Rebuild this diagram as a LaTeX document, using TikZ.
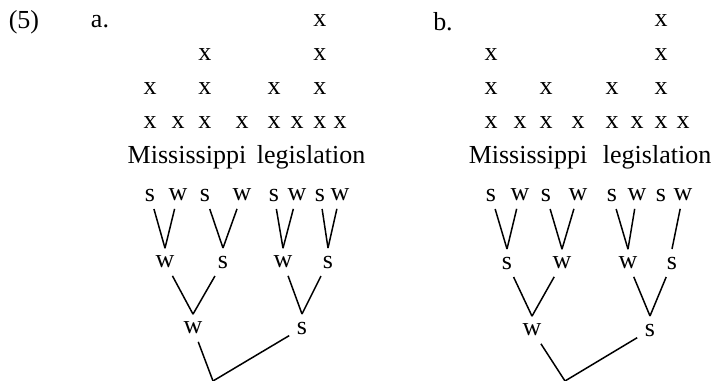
\documentclass[tikz,border=0pt]{standalone}
\usepackage{fontspec}
\setmainfont{Liberation Serif}

\begin{document}
\begin{tikzpicture}[
    x=0.5pt, y=-0.5pt,
    every node/.style={inner sep=3.5pt, font=\fontsize{13}{15}\selectfont},
    word/.style={inner sep=0pt},
    every path/.style={line width=0.75pt}
  ]
  \useasboundingbox (0,0) rectangle (714,381);

  \node (num) at (24,22) {(5)};
  \node (taga) at (100,22) {a.};
  \node (tagb) at (443,22) {b.};

  % grid a
  \foreach \c/\n [count=\i] in {150/2,178/1,205/3,242/1,274/2,297/1,320/4,340/1}
    \foreach \r in {1,...,\n}
      \node (ax\i-\r) at (\c,157-34*\r) {x};
  \node[word, anchor=base west] (amiss) at (127,163) {Mississippi};
  \node[word, anchor=base east] (alegis) at (366,163) {legislation};

  % tree a
  \foreach \c/\t [count=\i] in {150/s,178/w,205/s,242/w,274/s,297/w,320/s,340/w}
    \node (al\i) at (\c,195) {\t};
  \node (am1) at (165,262) {w};
  \node (am2) at (223,262) {s};
  \node (am3) at (283,262) {w};
  \node (am4) at (328,262) {s};
  \node (at1) at (193,328) {w};
  \node (at2) at (302,328) {s};
  \coordinate (aroot) at (213,381);
  \foreach \i/\p in {1/1,2/1,3/2,4/2,5/3,6/3,7/4,8/4}
    \draw (al\i) -- (am\p.north);
  \foreach \i/\p in {1/1,2/1,3/2,4/2}
    \draw (am\i) -- (at\p.north);
  \draw (at1) -- (aroot);
  \draw (at2) -- (aroot);

  % grid b
  \foreach \c/\n [count=\i] in {491/3,520/1,546/2,578/1,612/2,637/1,661/4,683/1}
    \foreach \r in {1,...,\n}
      \node (bx\i-\r) at (\c,157-34*\r) {x};
  \node[word, anchor=base west] (bmiss) at (468,163) {Mississippi};
  \node[word, anchor=base east] (blegis) at (712,163) {legislation};

  % tree b
  \foreach \c/\t [count=\i] in {491/s,520/w,546/s,578/w,612/s,637/w,661/s,683/w}
    \node (bl\i) at (\c,195) {\t};
  \node (bm1) at (507,263) {s};
  \node (bm2) at (562,263) {w};
  \node (bm3) at (628,263) {w};
  \node (bm4) at (672,263) {s};
  \node (bt1) at (532,330) {w};
  \node (bt2) at (650,330) {s};
  \coordinate (broot) at (565,381);
  \foreach \i/\p in {1/1,2/1,3/2,4/2,5/3,6/3,8/4}
    \draw (bl\i) -- (bm\p.north);
  \foreach \i/\p in {1/1,2/1,3/2,4/2}
    \draw (bm\i) -- (bt\p.north);
  \draw (bt1) -- (broot);
  \draw (bt2) -- (broot);
\end{tikzpicture}
\end{document}
